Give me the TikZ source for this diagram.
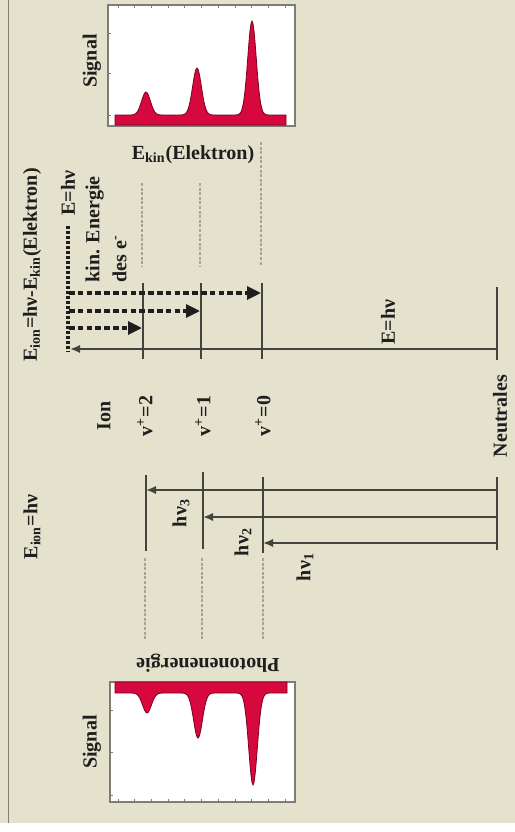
\documentclass[tikz,border=0pt]{standalone}
\usepackage{fontspec}
\setmainfont{Liberation Serif}
\usepackage{tikz}
\usetikzlibrary{arrows.meta}
\definecolor{mybeige}{RGB}{228,226,204}
\definecolor{myred}{RGB}{214,8,62}
\definecolor{mydark}{RGB}{68,68,62}
\definecolor{myblack}{RGB}{30,30,30}
\definecolor{mygray}{RGB}{125,125,116}
\definecolor{mgframe}{RGB}{165,165,155}
\tikzset{
  level/.style={line width=1.35pt, color=mydark},
  arrow/.style={-{Latex[length=5pt,width=4.2pt]}, line width=1.3pt, color=mydark},
  dasharrow/.style={-{Triangle[length=7pt,width=6.5pt]}, line width=1.6pt,
    color=myblack, dash pattern=on 2.8pt off 1.6pt},
  dotline/.style={line width=1.8pt, color=myblack, dash pattern=on 1.3pt off 1.2pt},
  gridline/.style={line width=0.55pt, color=mgframe, dash pattern=on 1.5pt off 0.8pt},
  plotframe/.style={draw=mygray, fill=white, line width=0.8pt},
  peak/.style={fill=myred, draw=myred!55!black, line width=0.4pt},
  tick/.style={mygray, line width=0.4pt},
  lbl/.style={font=\fontsize{10}{13.5}\selectfont\bfseries, inner sep=0pt, text=myblack},
  vlbl/.style={lbl, rotate=90}
}

\begin{document}
\begin{tikzpicture}[x=0.5pt, y=-0.5pt]
  \useasboundingbox (0,0) rectangle (515,832);
  % Background
  \fill[white] (0,0) rectangle (515,832);
  \fill[mybeige] (0,0) rectangle (515,823);
  \draw[mygray, line width=0.75pt] (8.5,0) -- (8.5,823);

  % Photoelectron spectrum (top)
  \draw[plotframe] (108,5) rectangle (295,126);
  \fill[peak] (115,125) -- plot[domain=115:286, samples=172]
    (\x,{115-23*exp(-((\x-146)/6.2)^2)-47*exp(-((\x-197)/6.2)^2)-94*exp(-((\x-252)/6)^2)})
    -- (286,125) -- cycle;
  \foreach \t in {0,...,10}
    \draw[tick] ({118+16.7*\t},5) -- ++(0,3);
  \foreach \t in {33,73,115}
    \draw[tick] (108,\t) -- ++(3,0);
  \node[vlbl] (sigtop) at (92,61) {Signal};
  \node[lbl] (ekin) at (193,155) {E\textsubscript{kin}(Elektron)};

  % Guide lines
  \draw[gridline] (142,183) -- (142,267);
  \draw[gridline] (200,183) -- (200,267);
  \draw[gridline] (261,142) -- (261,265);

  % Ion levels, photoelectron picture
  \foreach \x in {143,201,262}
    \draw[level] (\x,283) -- (\x,359);
  \draw[level] (497,287) -- (497,360);
  \coordinate (neu) at (497,349);
  \coordinate (ehv) at (70,349);
  \draw[arrow] (neu) -- (ehv);
  \draw[dotline] (68,226) -- (68,352);
  \node[vlbl] (ehvtop) at (68,193) {E=hν};
  \node[vlbl] (ehvmid) at (388,322) {E=hν};

  % Electron energies
  \foreach \y/\x/\n in {293/261/0, 311/200/1, 328/142/2} {
    \coordinate (s\n) at (69,\y);
    \coordinate (v\n) at (\x,\y);
    \draw[dasharrow] (s\n) -- (v\n);
  }
  \node[vlbl] (eion) at (32,265) {E\textsubscript{ion}=hν-E\textsubscript{kin}(Elektron)};
  \node[vlbl, align=left, anchor=north west] (kin) at (85,283)
    {kin. Energie\\des e\textsuperscript{-}};

  % Level labels
  \node[vlbl] (ion) at (104,416) {Ion};
  \node[vlbl] (lv2) at (145,416) {v\textsuperscript{+}=2};
  \node[vlbl] (lv1) at (203,416) {v\textsuperscript{+}=1};
  \node[vlbl] (lv0) at (263,416) {v\textsuperscript{+}=0};
  \node[vlbl] (neutral) at (500,416) {Neutrales};

  % Ion levels, absorption picture
  \draw[level] (146,475) -- (146,551);
  \draw[level] (203,472) -- (203,549);
  \draw[level] (263,477) -- (263,553);
  \draw[level] (497,477) -- (497,550);
  \foreach \y/\x/\n in {490/146/3, 517/203/2, 543/263/1} {
    \coordinate (g\n) at (497,\y);
    \coordinate (i\n) at (\x,\y);
    \draw[arrow] (g\n) -- (i\n);
  }
  \node[vlbl] (hv3) at (181,513) {hν\textsubscript{3}};
  \node[vlbl] (hv2) at (243,542) {hν\textsubscript{2}};
  \node[vlbl] (hv1) at (305,567) {hν\textsubscript{1}};
  \node[vlbl] (eionb) at (32,527) {E\textsubscript{ion}=hν};

  % Guide lines
  \foreach \x in {145,202,263}
    \draw[gridline] (\x,558) -- (\x,640);
  \node[lbl, rotate=180] (photon) at (208,663) {Photonenenergie};

  % Absorption spectrum (bottom)
  \draw[plotframe] (110,682) rectangle (295,802);
  \fill[peak] (115,682) -- (115,693) -- plot[domain=115:287, samples=173]
    (\x,{693+20*exp(-((\x-147)/6.2)^2)+45*exp(-((\x-198)/6.2)^2)+92*exp(-((\x-253)/6)^2)})
    -- (287,682) -- cycle;
  \foreach \t in {0,...,10}
    \draw[tick] ({118+16.7*\t},802) -- ++(0,-3);
  \foreach \t in {710,752,795}
    \draw[tick] (110,\t) -- ++(3,0);
  \node[vlbl] (sigbot) at (92,742) {Signal};
\end{tikzpicture}
\end{document}
